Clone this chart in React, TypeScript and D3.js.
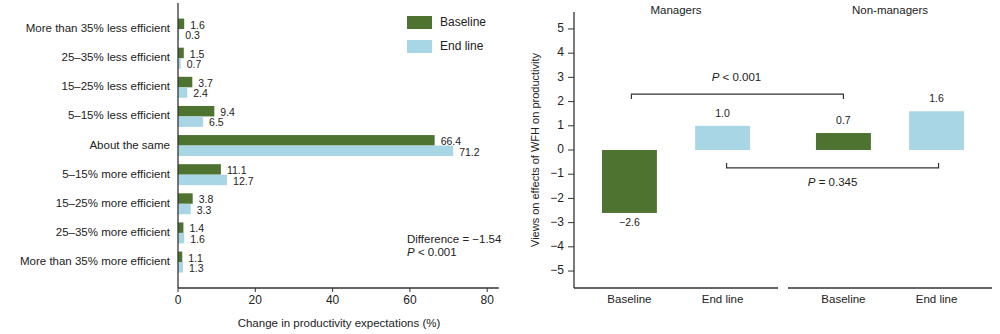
import React from "react";
import * as d3 from "d3";

const categories = [
  "More than 35% less efficient",
  "25–35% less efficient",
  "15–25% less efficient",
  "5–15% less efficient",
  "About the same",
  "5–15% more efficient",
  "15–25% more efficient",
  "25–35% more efficient",
  "More than 35% more efficient",
];
const baselineValues = [1.6, 1.5, 3.7, 9.4, 66.4, 11.1, 3.8, 1.4, 1.1];
const endlineValues = [0.3, 0.7, 2.4, 6.5, 71.2, 12.7, 3.3, 1.6, 1.3];
const seriesNames = ["Baseline", "End line"];
const xTicksLeft = [0, 20, 40, 60, 80];

const groups = ["Managers", "Non-managers"];
const periods = ["Baseline", "End line"];
const managerValues = [-2.6, 1.0];
const nonManagerValues = [0.7, 1.6];
const yTicksRight = [-5, -4, -3, -2, -1, 0, 1, 2, 3, 4, 5];

const GREEN = "#4e7230";
const BLUE = "#a9d6e5";
const AXIS = "#333";
const TEXT = "#222";
const FONT = "'Liberation Sans', Arial, Helvetica, sans-serif";

const fmt = (v: number) => (v < 0 ? "\u2212" + Math.abs(v).toFixed(1) : v.toFixed(1));

export default function App() {
  // LEFT PANEL
  const x = d3.scaleLinear().domain([0, 80]).range([178, 487.2]);
  const y = d3.scaleBand<string>().domain(categories).range([14.5, 276.6]).paddingInner(0.28).paddingOuter(0.14);
  const ySub = d3.scaleBand<string>().domain(seriesNames).range([0, y.bandwidth()]);

  // RIGHT PANEL
  const yr = d3.scaleLinear().domain([-5.7, 5.7]).range([288, 12]);
  const groupRanges: [number, number][] = [
    [574, 778],
    [788, 992],
  ];
  const bandFor = (i: number) =>
    d3.scaleBand<string>().domain(periods).range(groupRanges[i]).paddingInner(0.41).paddingOuter(0.3);
  const bands = [bandFor(0), bandFor(1)];
  const groupValues = [managerValues, nonManagerValues];
  const cx = (g: number, p: number) => (bands[g](periods[p]) as number) + bands[g].bandwidth() / 2;

  const bracket1Y = yr(2.31);
  const bracket2Y = yr(-0.74);

  return (
    <svg width={1000} height={334} style={{ display: "block", position: "absolute", left: 0, top: 0 }} fontFamily={FONT}>
      <rect width={1000} height={334} fill="#fff" />
      {/* Left panel bars */}
      {categories.map((c, i) => {
        const y0 = y(c) as number;
        const vals = [baselineValues[i], endlineValues[i]];
        return (
          <g key={c}>
            <text x={170} y={y0 + y.bandwidth() / 2} textAnchor="end" dominantBaseline="middle" fontSize={11.5} fill={TEXT}>
              {c}
            </text>
            {vals.map((v, j) => {
              const by = y0 + (ySub(seriesNames[j]) as number);
              return (
                <g key={j}>
                  <rect x={x(0)} y={by} width={x(v) - x(0)} height={ySub.bandwidth()} fill={j === 0 ? GREEN : BLUE} />
                  <text
                    x={x(v) + 6}
                    y={by + ySub.bandwidth() / 2 + 2}
                    dominantBaseline="middle"
                    fontSize={10.5}
                    fill={TEXT}
                  >
                    {v.toFixed(1)}
                  </text>
                </g>
              );
            })}
          </g>
        );
      })}
      {/* Left axes */}
      <line x1={x(0)} x2={x(0)} y1={3} y2={288} stroke={AXIS} strokeWidth={1.3} />
      <line x1={x(0)} x2={x(83)} y1={288} y2={288} stroke={AXIS} strokeWidth={1.3} />
      {xTicksLeft.map((t) => (
        <g key={t}>
          <line x1={x(t)} x2={x(t)} y1={288} y2={292} stroke={AXIS} strokeWidth={1} />
          <text x={x(t)} y={301} textAnchor="middle" dominantBaseline="middle" fontSize={12} fill={TEXT}>
            {t}
          </text>
        </g>
      ))}
      <text x={339} y={324} textAnchor="middle" dominantBaseline="middle" fontSize={11.5} fill={TEXT}>
        Change in productivity expectations (%)
      </text>
      {/* Legend */}
      {seriesNames.map((s, i) => (
        <g key={s}>
          <rect x={407} y={16 + i * 24} width={25} height={13} fill={i === 0 ? GREEN : BLUE} />
          <text x={440} y={22.5 + i * 24} dominantBaseline="middle" fontSize={12} fill={TEXT}>
            {s}
          </text>
        </g>
      ))}
      <text x={407} y={240} dominantBaseline="middle" fontSize={11.5} fill={TEXT}>
        Difference = −1.54
      </text>
      <text x={407} y={253} dominantBaseline="middle" fontSize={11.5} fill={TEXT}>
        <tspan fontStyle="italic">P</tspan> {"< 0.001"}
      </text>

      {/* Right panel */}
      <text
        transform={`translate(536,150) rotate(-90)`}
        textAnchor="middle"
        dominantBaseline="middle"
        fontSize={11}
        fill={TEXT}
      >
        Views on effects of WFH on productivity
      </text>
      {yTicksRight.map((t) => (
        <g key={t}>
          <line x1={568} x2={574} y1={yr(t)} y2={yr(t)} stroke={AXIS} strokeWidth={1} />
          <text x={564} y={yr(t)} textAnchor="end" dominantBaseline="middle" fontSize={12} fill={TEXT}>
            {t < 0 ? "\u2212" + Math.abs(t) : t}
          </text>
        </g>
      ))}
      <line x1={574} x2={574} y1={12} y2={288} stroke={AXIS} strokeWidth={1.3} />
      {groupRanges.map((r, i) => (
        <line key={i} x1={r[0]} x2={r[1]} y1={288} y2={288} stroke={AXIS} strokeWidth={1.3} />
      ))}
      {groups.map((g, gi) => (
        <g key={g}>
          <text
            x={(cx(gi, 0) + cx(gi, 1)) / 2}
            y={11}
            textAnchor="middle"
            dominantBaseline="middle"
            fontSize={11.5}
            fill={TEXT}
          >
            {g}
          </text>
          {periods.map((p, pi) => {
            const v = groupValues[gi][pi];
            const bx = bands[gi](p) as number;
            const top = Math.min(yr(v), yr(0));
            const h = Math.abs(yr(v) - yr(0));
            return (
              <g key={p}>
                <rect x={bx} y={top} width={bands[gi].bandwidth()} height={h} fill={pi === 0 ? GREEN : BLUE} />
                <text
                  x={cx(gi, pi)}
                  y={v < 0 ? yr(v) + 10 : yr(v) - 12}
                  textAnchor="middle"
                  dominantBaseline="middle"
                  fontSize={10.5}
                  fill={TEXT}
                >
                  {fmt(v)}
                </text>
                <text x={cx(gi, pi)} y={300} textAnchor="middle" dominantBaseline="middle" fontSize={11.5} fill={TEXT}>
                  {p}
                </text>
              </g>
            );
          })}
        </g>
      ))}
      {/* Brackets */}
      <path
        d={`M${cx(0, 0) + 2},${bracket1Y + 5}V${bracket1Y}H${cx(1, 0)}V${bracket1Y + 5}`}
        fill="none"
        stroke={AXIS}
        strokeWidth={1.2}
      />
      <text x={(cx(0, 0) + cx(1, 0)) / 2} y={78} textAnchor="middle" dominantBaseline="middle" fontSize={11.5} fill={TEXT}>
        <tspan fontStyle="italic">P</tspan> {"< 0.001"}
      </text>
      <path
        d={`M${cx(0, 1) + 4},${bracket2Y - 5}V${bracket2Y}H${cx(1, 1) + 2}V${bracket2Y - 5}`}
        fill="none"
        stroke={AXIS}
        strokeWidth={1.2}
      />
      <text x={(cx(0, 1) + cx(1, 1)) / 2 + 3} y={183} textAnchor="middle" dominantBaseline="middle" fontSize={11.5} fill={TEXT}>
        <tspan fontStyle="italic">P</tspan> {"= 0.345"}
      </text>
    </svg>
  );
}
